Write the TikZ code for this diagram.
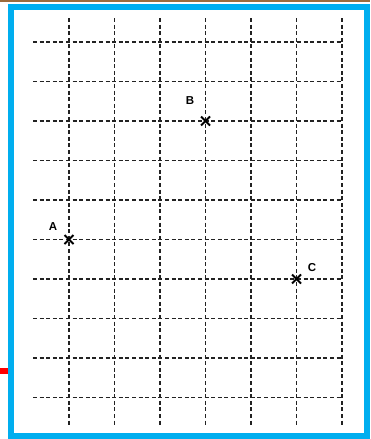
\documentclass[tikz,border=0pt]{standalone}
\usepackage{fontspec}
\setsansfont{Liberation Sans}
\usepackage{tikz}
\usetikzlibrary{positioning,calc}
\definecolor{frameblue}{HTML}{00AEEF}
\definecolor{topbrown}{HTML}{9C6B3C}
\definecolor{gridgray}{HTML}{222222}
\tikzset{gridln/.style={gridgray,line width=1.5pt,dash pattern=on 4pt off 2.6pt},
  xmark/.style={black,line width=2pt},
  lbl/.style={font=\sffamily\bfseries\fontsize{11.5}{13}\selectfont,inner sep=0pt}}

\begin{document}
\begin{tikzpicture}[x=1pt,y=-1pt]
\useasboundingbox (0,0) rectangle (370,439);
\fill[white] (0,0) rectangle (370,439);
\fill[topbrown] (0,0) rectangle (370,2);
\fill[red] (0,368) rectangle (9,374);
\draw[frameblue,line width=6pt] (11,6.5) rectangle (366.5,436);
% grid
\foreach \i in {0,...,6}{\draw[gridln] (69+45.5*\i,18) -- (69+45.5*\i,426);}
\foreach \j in {0,...,9}{\draw[gridln] (33,42+39.5*\j) -- (342,42+39.5*\j);}
% points
\coordinate (A) at (69,239.5);
\coordinate (B) at (205.5,121);
\coordinate (C) at (296.5,279);
\foreach \p in {A,B,C}{\draw[xmark] ($(\p)+(-4.5,-4.5)$) -- ($(\p)+(4.5,4.5)$);
  \draw[xmark] ($(\p)+(-4.5,4.5)$) -- ($(\p)+(4.5,-4.5)$);}
\node[lbl] (lA) at (53,227){A};
\node[lbl] (lB) at (190,101){B};
\node[lbl] (lC) at (312,268){C};
\end{tikzpicture}
\end{document}
